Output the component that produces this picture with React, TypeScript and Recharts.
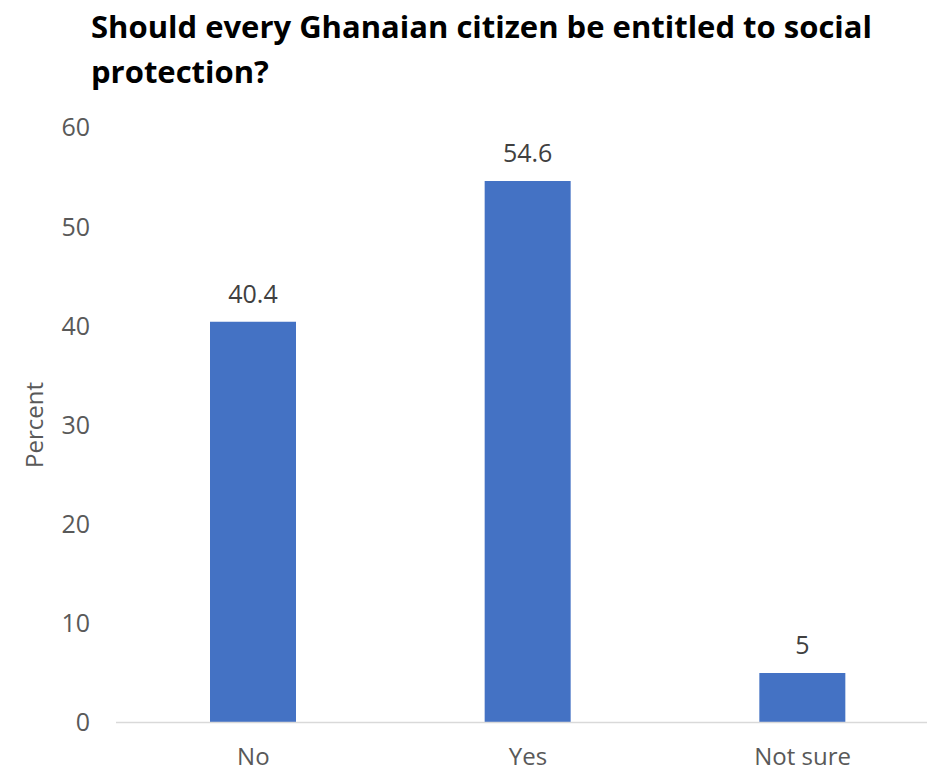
import React from 'react';
import { BarChart, Bar, XAxis, YAxis, LabelList } from 'recharts';

const categories = ['No', 'Yes', 'Not sure'];
const percentValues = [40.4, 54.6, 5];
const yTicks = [0, 10, 20, 30, 40, 50, 60];

const data = categories.map((name, i) => ({ name, value: percentValues[i] }));

const FONT = '"Open Sans", "Noto Sans", sans-serif';

export default function App() {
  return (
    <div
      style={{
        position: 'fixed',
        left: 0,
        top: 0,
        width: 927,
        height: 773,
        overflow: 'hidden',
        background: '#fff',
        fontFamily: FONT,
      }}
    >
      <div
        style={{
          position: 'absolute',
          left: 91,
          top: 4,
          width: 830,
          fontFamily: FONT,
          fontWeight: 700,
          fontSize: 31,
          lineHeight: '45px',
          color: '#000',
        }}
      >
        Should every Ghanaian citizen be entitled to social protection?
      </div>
      <div style={{ position: 'absolute', left: 0, top: 0 }}>
        <BarChart
          width={940}
          height={773}
          data={data}
          margin={{ top: 127.5, right: 0, bottom: 0, left: 0 }}
        >
          <XAxis
            dataKey="name"
            axisLine={{ stroke: '#D9D9D9', strokeWidth: 1.5 }}
            tickLine={false}
            tickSize={0}
            tickMargin={25}
            height={50.5}
            tick={{ fill: '#595959', fontSize: 24, fontFamily: FONT }}
          />
          <YAxis
            width={116}
            domain={[0, 60]}
            ticks={yTicks}
            interval={0}
            axisLine={false}
            tickLine={false}
            tickSize={0}
            tickMargin={26}
            tick={{ fill: '#595959', fontSize: 25, fontFamily: FONT }}
            label={{
              value: 'Percent',
              angle: -90,
              position: 'insideLeft',
              offset: 34,
              style: { fill: '#595959', fontSize: 24, fontFamily: FONT, textAnchor: 'middle' },
            }}
          />
          <Bar dataKey="value" fill="#4472C4" barSize={86} isAnimationActive={false}>
            <LabelList
              dataKey="value"
              position="top"
              offset={19}
              style={{ fill: '#404040', fontSize: 25, fontFamily: FONT }}
            />
          </Bar>
        </BarChart>
      </div>
    </div>
  );
}
